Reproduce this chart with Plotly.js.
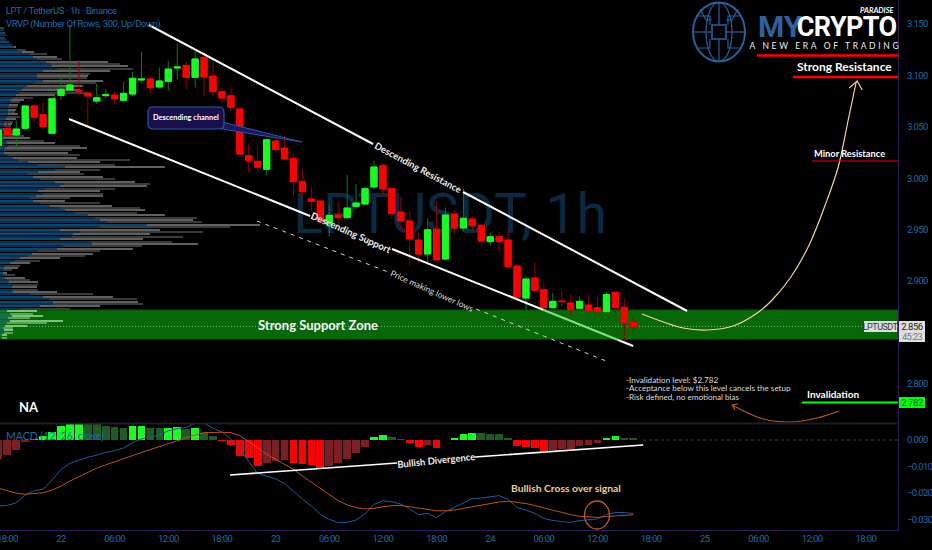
<!DOCTYPE html>
<html>
<head>
<meta charset="utf-8">
<script src="https://cdn.plot.ly/plotly-3.0.1.min.js"></script>
<style>
html,body{margin:0;padding:0;background:#000;}
#chart{width:932px;height:550px;}
.annotation[data-index="24"] text{letter-spacing:2.65px;}
.annotation[data-index="22"] text{letter-spacing:-0.6px;}
.annotation[data-index="0"] text,.annotation[data-index="1"] text{letter-spacing:-0.4px;}
.annotation[data-index="17"] text,.annotation[data-index="18"] text,.annotation[data-index="19"] text,.annotation[data-index="20"] text{letter-spacing:-0.5px;}
.xtick text,.ytick text,.y2tick text{letter-spacing:-0.6px;}
</style>
</head>
<body>
<div id="chart"></div>
<script>
// ---------- candle data (hours since 22nd 00:00, USDT) ----------
const hours = [-7,-6,-5,-4,-3,-2,-1,0,1,2,3,4,5,6,7,8,9,10,11,12,13,14,15,16,17,18,19,20,21,22,23,24,25,26,27,28,29,30,31,32,33,34,35,36,37,38,39,40,41,42,43,44,45,46,47,48,49,50,51,52,53,54,55,56,57,58,59,60,61,62,63,64];
const open = [3.0317,3.0486,3.0421,3.0486,3.0703,3.0618,3.0437,3.0806,3.0858,3.0855,3.0829,3.0751,3.0803,3.0810,3.0758,3.0819,3.0955,3.0965,3.0887,3.0942,3.1072,3.1098,3.0981,3.1176,3.0994,3.0842,3.0803,3.0674,3.0220,3.0165,3.0087,3.0362,3.0294,3.0194,2.9970,2.9799,2.9779,2.9556,2.9643,2.9617,2.9727,2.9750,2.9915,3.0126,2.9902,2.9672,2.9585,2.9400,2.9264,2.9504,2.9215,2.9653,2.9517,2.9604,2.9543,2.9384,2.9432,2.9400,2.9147,2.8836,2.9031,2.8917,2.8742,2.8807,2.8788,2.8736,2.8768,2.8742,2.8704,2.8892,2.8746,2.8600];
const high = [3.0469,3.0550,3.0560,3.0703,3.0722,3.0745,3.0774,3.0988,3.1490,3.1150,3.0852,3.0923,3.0865,3.0845,3.0939,3.1033,3.1231,3.0994,3.1079,3.1143,3.1312,3.1140,3.1241,3.1231,3.1134,3.0884,3.0884,3.0674,3.0340,3.0324,3.0379,3.0372,3.0411,3.0236,3.0090,2.9912,2.9779,2.9743,2.9779,3.0032,2.9944,2.9925,3.0171,3.0145,2.9902,2.9821,2.9685,2.9481,2.9611,2.9779,2.9708,2.9692,2.9902,2.9633,2.9552,2.9475,2.9481,2.9497,2.9167,2.9054,2.9183,2.8995,2.8888,2.8914,2.8869,2.8849,2.8869,2.8843,2.8895,2.8892,2.8830,2.8661];
const low = [3.0317,3.0400,3.0291,3.0469,3.0550,3.0469,3.0437,3.0761,3.0852,3.0810,3.0512,3.0722,3.0774,3.0722,3.0745,3.0800,3.0923,3.0832,3.0874,3.0852,3.0962,3.0865,3.0884,3.0800,3.0800,3.0729,3.0648,3.0236,3.0055,3.0064,3.0032,3.0243,3.0178,2.9821,2.9821,2.9685,2.9562,2.9432,2.9546,2.9611,2.9724,2.9740,2.9892,2.9837,2.9611,2.9504,2.9151,2.9173,2.9189,2.9199,2.9212,2.9458,2.9481,2.9491,2.9335,2.9342,2.9280,2.9125,2.8840,2.8720,2.8908,2.8736,2.8736,2.8752,2.8668,2.8730,2.8710,2.8687,2.8700,2.8687,2.8422,2.8493];
const close = [3.0469,3.0421,3.0479,3.0703,3.0593,3.0502,3.0774,3.0865,3.0907,3.0842,3.0800,3.0784,3.0813,3.0771,3.0826,3.0972,3.0965,3.0881,3.0946,3.1062,3.1082,3.0981,3.1160,3.0985,3.0842,3.0780,3.0690,3.0236,3.0171,3.0107,3.0375,3.0278,3.0188,2.9967,2.9870,2.9776,2.9578,2.9640,2.9617,2.9711,2.9760,2.9899,3.0110,2.9896,2.9656,2.9585,2.9410,2.9264,2.9500,2.9206,2.9643,2.9517,2.9611,2.9539,2.9390,2.9432,2.9384,2.9141,2.8843,2.9021,2.8911,2.8742,2.8804,2.8801,2.8723,2.8804,2.8713,2.8704,2.8869,2.8742,2.8593,2.8560];

// ---------- MACD ----------
const macdHist = [-0.0073,-0.0057,-0.0038,-0.0008,0.0005,0.0016,0.0031,0.0053,0.0060,0.0061,0.0060,0.0059,0.0053,0.0050,0.0045,0.0053,0.0054,0.0045,0.0044,0.0047,0.0048,0.0040,0.0044,0.0028,0.0015,-0.0003,-0.0019,-0.0059,-0.0069,-0.0098,-0.0088,-0.0078,-0.0077,-0.0086,-0.0091,-0.0094,-0.0104,-0.0098,-0.0088,-0.0073,-0.0050,-0.0025,0.0011,0.0020,0.0011,0.0004,-0.0011,-0.0026,-0.0019,-0.0030,-0.0001,0.0009,0.0023,0.0028,0.0025,0.0024,0.0023,0.0008,-0.0021,-0.0026,-0.0030,-0.0040,-0.0039,-0.0035,-0.0033,-0.0023,-0.0018,-0.0013,0.0009,0.0014,0.0009,0.0006];
const macdLine = [-0.0249,-0.0247,-0.0237,-0.0208,-0.0191,-0.0186,-0.0151,-0.0111,-0.0088,-0.0075,-0.0065,-0.0057,-0.0047,-0.0040,-0.0030,-0.0010,0.0004,0.0010,0.0019,0.0035,0.0043,0.0048,0.0063,0.0063,0.0044,0.0031,0.0003,-0.0031,-0.0082,-0.0126,-0.0136,-0.0147,-0.0164,-0.0195,-0.0223,-0.0249,-0.0281,-0.0299,-0.0312,-0.0311,-0.0302,-0.0279,-0.0243,-0.0229,-0.0233,-0.0242,-0.0260,-0.0282,-0.0277,-0.0293,-0.0270,-0.0254,-0.0237,-0.0221,-0.0219,-0.0214,-0.0210,-0.0224,-0.0255,-0.0264,-0.0277,-0.0296,-0.0304,-0.0308,-0.0311,-0.0304,-0.0302,-0.0298,-0.0281,-0.0273,-0.0274,-0.0277];
const macdSignal = [-0.0182,-0.0191,-0.0201,-0.0205,-0.0203,-0.0199,-0.0189,-0.0174,-0.0155,-0.0138,-0.0121,-0.0106,-0.0094,-0.0083,-0.0072,-0.0059,-0.0047,-0.0035,-0.0025,-0.0014,-0.0003,0.0009,0.0019,0.0028,0.0029,0.0029,0.0028,0.0016,-0.0006,-0.0029,-0.0054,-0.0073,-0.0091,-0.0111,-0.0136,-0.0160,-0.0181,-0.0208,-0.0229,-0.0245,-0.0255,-0.0260,-0.0258,-0.0252,-0.0248,-0.0247,-0.0252,-0.0257,-0.0260,-0.0267,-0.0267,-0.0264,-0.0258,-0.0252,-0.0245,-0.0239,-0.0234,-0.0231,-0.0235,-0.0240,-0.0247,-0.0257,-0.0265,-0.0273,-0.0282,-0.0288,-0.0291,-0.0292,-0.0289,-0.0286,-0.0283,-0.0282];

// ---------- visible-range volume profile (top row downwards) ----------
const vpTotal = [4,4,5,6,5,7,9,12,16,26,34,47,57,62,108,120,128,133,110,90,88,87,103,96,83,74,80,87,55,33,24,20,18,17,16,15,18,20,16,13,12,11,10,14,17,24,30,44,55,80,87,72,68,80,77,130,100,115,165,100,80,84,103,115,135,150,147,115,100,103,103,70,65,100,112,140,145,137,165,197,193,202,260,230,160,203,150,183,143,172,198,142,133,100,93,85,60,40,30,20,18,12,7,15,25,30,38,38,37,38,57,93,113,137,138,143,100,70,37,33,43,30,63,47,27,13,13,13,7,7];
const vpUp = [4,4,5,6,5,7,9,12,14,17,22,30,33,37,46,50,52,57,43,37,37,37,43,35,27,23,22,20,16,13,11,10,9,8,8,8,8,7,6,5,4,4,3,3,4,3,3,6,7,8,5,4,4,7,13,18,28,38,65,55,38,27,33,40,55,63,60,45,38,43,36,30,33,40,50,60,65,75,88,95,100,107,147,100,60,80,73,72,60,90,92,63,57,38,32,28,20,14,10,5,4,3,3,4,5,7,9,13,12,12,13,30,43,50,53,53,40,20,7,10,12,8,10,7,5,3,4,4,2,2];
const vpTopPrice = 3.1461, vpRowStep = 0.002333, vpUnitPerHour = 8.94;

// ---------- axes ----------
const xTickVals = [-6,0,6,12,18,24,30,36,42,48,54,60,66,72,78,84,90];
const xTickText = ['18:00','22','06:00','12:00','18:00','23','06:00','12:00','18:00','24','06:00','12:00','18:00','25','06:00','12:00','18:00'];
const priceTicks = [3.15,3.10,3.05,3.00,2.95,2.90,2.80];
const macdTicks = [0,-0.01,-0.02,-0.03];

// ---------- key levels ----------
const zoneTop = 2.8720, zoneBottom = 2.8433, lastPrice = 2.8560, invalidation = 2.782;

// ---------- picture-to-axis helpers for the hand-drawn overlays ----------
const W = 898, H = 530;
const toHour = px => (px - 61) / 8.94;
const toPrice = py => 3.15 - (py - 24) / 1028.6;
const toMacd = py => (440 - py) / 2650;
const fx = px => px / W, fy = py => 1 - py / H;

const BLUE = 'rgb(28,108,168)';
const FONT = 'Lato, "Open Sans", sans-serif';
const NARROW = 'Roboto, sans-serif';
const hourArr = a => a.map(p => p === null ? null : toHour(p[0]));
const priceArr = a => a.map(p => p === null ? null : toPrice(p[1]));

function drawLine(points, color, width, opt) {
  opt = opt || {};
  return {type:'scatter', mode:'lines', x:hourArr(points), y:priceArr(points), cliponaxis:false,
    line:{color:color, width:width, dash:opt.dash||'solid', shape:opt.spline?'spline':'linear', smoothing:opt.smoothing||1},
    hoverinfo:'skip', showlegend:false};
}

const traces = [];
// profile rows
const vpY = vpTotal.map((_, i) => vpTopPrice - i * vpRowStep);
const inZone = p => p <= zoneTop && p >= zoneBottom;
traces.push({type:'bar', orientation:'h', y:vpY, x:vpTotal.map(v => v / vpUnitPerHour), base:-6.82, width:0.0021,
  marker:{color:vpY.map((p,i) => inZone(p) ? (i%2 ? 'rgb(85,165,85)' : 'rgb(120,195,120)') : (i%2 ? 'rgb(58,58,58)' : 'rgb(96,96,96)')), line:{width:0}},
  hoverinfo:'skip', showlegend:false});
traces.push({type:'bar', orientation:'h', y:vpY, x:vpUp.map(v => v / vpUnitPerHour), base:-6.82, width:0.0021,
  marker:{color:vpY.map((p,i) => inZone(p) ? 'rgb(20,110,70)' : (i%2 ? 'rgb(11,46,74)' : 'rgb(15,68,108)')), line:{width:0}},
  hoverinfo:'skip', showlegend:false});

// candles: full candle with dark wicks, then bright bodies on top
const bodyHi = open.map((o,i) => Math.max(o, close[i]));
const bodyLo = open.map((o,i) => Math.min(o, close[i]));
traces.push({type:'candlestick', x:hours, open:open, high:high, low:low, close:close,
  increasing:{line:{color:'rgb(12,125,25)', width:1}, fillcolor:'rgb(12,125,25)'},
  decreasing:{line:{color:'rgb(150,0,0)', width:1}, fillcolor:'rgb(150,0,0)'},
  whiskerwidth:0, hoverinfo:'skip', showlegend:false});
traces.push({type:'candlestick', x:hours, open:open, high:bodyHi, low:bodyLo, close:close,
  increasing:{line:{color:'rgb(20,255,30)', width:1}, fillcolor:'rgb(20,255,30)'},
  decreasing:{line:{color:'rgb(255,0,0)', width:1}, fillcolor:'rgb(255,0,0)'},
  whiskerwidth:0, hoverinfo:'skip', showlegend:false});

// MACD histogram + lines
const histColors = macdHist.map((v,i) => {
  const prev = i ? macdHist[i-1] : v;
  if (v >= 0) return v > prev ? 'rgb(20,255,30)' : 'rgb(30,92,36)';
  return v < prev ? 'rgb(255,0,0)' : 'rgb(125,30,36)';
});
traces.push({type:'bar', x:hours, y:macdHist, yaxis:'y2', width:0.86, marker:{color:histColors, line:{width:0}}, hoverinfo:'skip', showlegend:false});
traces.push({type:'scatter', mode:'lines', x:hours, y:macdLine, yaxis:'y2', line:{color:'rgb(28,92,160)', width:1}, hoverinfo:'skip', showlegend:false});
traces.push({type:'scatter', mode:'lines', x:hours, y:macdSignal, yaxis:'y2', line:{color:'rgb(190,82,24)', width:1}, hoverinfo:'skip', showlegend:false});

// channel lines
traces.push(drawLine([[149,25],[373,144],null,[463,192],[687,311]], 'rgb(255,255,255)', 2));
traces.push(drawLine([[69,119],[310,216],null,[392,249],[543.5,310]], 'rgb(255,255,255)', 2));
traces.push(drawLine([[543.5,310],[618,340]], 'rgb(130,225,130)', 2));
traces.push(drawLine([[618,340],[633,346]], 'rgb(255,255,255)', 2));
traces.push(drawLine([[257,221],[388,272],null,[476,309],[606,361]], 'rgb(210,210,210)', 1, {dash:'4px 5px'}));
// projected path with arrow head
traces.push(drawLine([[642,314],[683,328],[707,330],[733,326],[757,313],[772,300],[790,278],[808,247],[825,205],[838,167],[848,120],[856,82]], 'rgb(240,212,155)', 1.2, {spline:true}));
traces.push(drawLine([[849,88],[857,81],[862,90]], 'rgb(240,212,155)', 1.2));
// invalidation note arrow
traces.push(drawLine([[839,411],[817,418],[790,422],[763,419],[732,405]], 'rgb(185,90,32)', 1.2, {spline:true}));
traces.push(drawLine([[738,404],[732,405],[735,410]], 'rgb(185,90,32)', 1.2));
// divergence line in MACD pane
const divLine = [[230,475],[397,463],null,[475,457],[643,445]];
traces.push({type:'scatter', mode:'lines', x:hourArr(divLine), y:divLine.map(p => p ? toMacd(p[1]) : null), yaxis:'y2', line:{color:'#fff', width:1.6}, hoverinfo:'skip', showlegend:false});

// ---------- overlay shapes ----------
const shapes = [];
const rectShape = (x0,y0,x1,y1,fill,extra) => Object.assign({type:'rect', xref:'paper', yref:'paper', x0:fx(x0), x1:fx(x1), y0:fy(y0), y1:fy(y1), fillcolor:fill, line:{width:0}, layer:'above'}, extra||{});
const segShape = (x0,y0,x1,y1,color,width,dash) => ({type:'line', xref:'paper', yref:'paper', x0:fx(x0), x1:fx(x1), y0:fy(y0), y1:fy(y1), line:{color:color, width:width, dash:dash||'solid'}, layer:'above'});
const pathShape = (d,fill,color,width) => ({type:'path', xref:'paper', yref:'paper', path:d, fillcolor:fill||'rgba(0,0,0,0)', line:{color:color, width:width}, layer:'above'});
const P = (x,y) => fx(x) + ' ' + fy(y);
function ellipsePath(cx,cy,rx,ry){
  const k = 0.5523;
  return 'M '+P(cx-rx,cy)+' C '+P(cx-rx,cy-k*ry)+' '+P(cx-k*rx,cy-ry)+' '+P(cx,cy-ry)+' C '+P(cx+k*rx,cy-ry)+' '+P(cx+rx,cy-k*ry)+' '+P(cx+rx,cy)+' C '+P(cx+rx,cy+k*ry)+' '+P(cx+k*rx,cy+ry)+' '+P(cx,cy+ry)+' C '+P(cx-k*rx,cy+ry)+' '+P(cx-rx,cy+k*ry)+' '+P(cx-rx,cy)+' Z';
}
function roundRect(x0,y0,x1,y1,r){
  return 'M '+P(x0+r,y0)+' L '+P(x1-r,y0)+' Q '+P(x1,y0)+' '+P(x1,y0+r)+' L '+P(x1,y1-r)+' Q '+P(x1,y1)+' '+P(x1-r,y1)+' L '+P(x0+r,y1)+' Q '+P(x0,y1)+' '+P(x0,y1-r)+' L '+P(x0,y0+r)+' Q '+P(x0,y0)+' '+P(x0+r,y0)+' Z';
}
// watermark (under all traces)
shapes.push({type:'rect', xref:'paper', yref:'paper', x0:fx(296), x1:fx(604), y0:fy(240), y1:fy(180), line:{width:0}, fillcolor:'rgba(0,0,0,0)', layer:'below',
  label:{text:'LPTUSDT, 1h', textposition:'middle center', font:{family:'Roboto, sans-serif', size:55, color:'rgb(9,42,66)'}}});
// support zone (under all traces)
shapes.push({type:'rect', xref:'paper', yref:'y', x0:0, x1:1, y0:zoneBottom, y1:zoneTop, fillcolor:'rgb(8,104,8)', line:{width:0}, layer:'below'});
shapes.push({type:'line', xref:'paper', yref:'y', x0:0, x1:1, y0:zoneTop, y1:zoneTop, line:{color:'rgb(6,80,6)', width:1}, layer:'below'});
shapes.push({type:'line', xref:'paper', yref:'y', x0:0, x1:1, y0:lastPrice, y1:lastPrice, line:{color:'rgba(170,225,170,.75)', width:1, dash:'1px 2px'}, layer:'below'});
// pane separator and zero line
shapes.push(segShape(0,423.5,898,423.5,'rgb(28,28,34)',2));
shapes.push({type:'line', xref:'paper', yref:'y2', x0:fx(643), x1:1, y0:0, y1:0, line:{color:'rgb(60,60,60)', width:1, dash:'3px 3px'}, layer:'below'});
// level lines
shapes.push(segShape(757,55.5,898,55.5,'rgb(255,0,0)',2.5));
shapes.push(segShape(793,77,898,77,'rgb(255,0,0)',2.5));
shapes.push(segShape(812,161,898,161,'rgb(240,0,0)',1.2));
shapes.push({type:'line', xref:'paper', yref:'y', x0:fx(802), x1:1, y0:invalidation, y1:invalidation, line:{color:'rgb(0,255,10)', width:2}, layer:'above'});
// callout
shapes.push(pathShape('M '+P(222,122)+' L '+P(302,142)+' L '+P(222,129)+' Z','rgb(30,20,95)','rgb(30,95,165)',1));
shapes.push(pathShape(roundRect(148,107,224,129,5),'rgb(24,15,78)','rgb(30,95,165)',1.2));
// cross-over circle
shapes.push(pathShape(ellipsePath(597,515,12.5,14),null,'rgb(190,92,32)',1.3));
// right side labels
shapes.push(rectShape(864,321,897,332,'rgb(222,222,222)'));
shapes.push(rectShape(899,321,925,342,'rgb(222,222,222)'));
shapes.push(rectShape(899,397,925,408,'rgb(0,255,10)'));
// logo globe
const LB = 'rgb(38,98,158)';
shapes.push(pathShape(ellipsePath(719,32,26,29.5),null,LB,2));
shapes.push(pathShape(ellipsePath(719,32,13,29.5),null,LB,1.2));
shapes.push(pathShape('M '+P(712,25)+' L '+P(726,25)+' L '+P(726,39)+' L '+P(712,39)+' Z',null,LB,1.6));
[['M',696,16,710,16,710,25],['M',742,16,728,16,728,25],['M',693,32,712,32,712,32],['M',745,32,726,32,726,32],['M',696,48,710,48,710,39],['M',742,48,728,48,728,39],['M',719,3,719,14,719,25],['M',719,61,719,50,719,39],['M',700,9,706,20,712,20],['M',738,9,732,20,726,20]].forEach(s => {
  shapes.push(pathShape('M '+P(s[1],s[2])+' L '+P(s[3],s[4])+' L '+P(s[5],s[6]),null,LB,1.2));
});

// ---------- texts ----------
function T(x,y,text,o){
  o = o || {};
  return {xref:'paper', yref:'paper', x:fx(x), y:fy(y), text:text, showarrow:false, xanchor:o.a||'left', yanchor:'middle', textangle:o.rot||0,
    font:{family:o.family||FONT, size:o.size||10, color:o.color||'#fff', weight:o.weight||'normal', style:o.style||'normal'}, borderpad:0, captureevents:false};
}
const annotations = [
  T(-1,11,'LPT / TetherUS · 1h · Binance',{size:9.5,color:BLUE,family:NARROW}),
  T(-2,24,'VRVP (Number Of Rows, 300, Up/Down)',{size:9.5,color:BLUE,family:NARROW}),
  T(5,436,'MACD (12, 26, close)',{size:10.5,color:BLUE}),
  T(18,407,'NA',{size:13,weight:'bold'}),
  T(186,117,'Descending channel',{a:'center',size:7.4,weight:'bold'}),
  T(418,167,'Descending Resistance',{a:'center',size:9.5,rot:28,weight:'bold',color:'#eee'}),
  T(351,232,'Descending Support',{a:'center',size:9.6,rot:24,weight:'bold',color:'#eee'}),
  T(432,291,'Price making lower lows',{a:'center',size:8.5,rot:24,color:'#ddd'}),
  T(318,325,'Strong Support Zone',{a:'center',size:13,weight:'bold',color:'#f4f4f4'}),
  T(436,460,'Bullish Divergence',{a:'center',size:9.5,rot:-6,weight:'bold',color:'#eee'}),
  T(510,488,'Bullish Cross over signal',{size:10.3,weight:'bold',color:'rgb(240,205,140)'}),
  T(625,379.5,'-Invalidation level: $2.782',{size:8.1,color:'#ddd'}),
  T(625,388,'-Acceptance below this level cancels the setup',{size:8.1,color:'#ddd'}),
  T(625,396.5,'-Risk defined, no emotional bias',{size:8.1,color:'#ddd'}),
  T(893,67,'Strong Resistance',{a:'right',size:12,weight:'bold'}),
  T(849,153,'Minor Resistance',{a:'center',size:9.3,weight:'bold'}),
  T(806,394,'Invalidation',{size:10,weight:'bold'}),
  T(880.5,326.5,'LPTUSDT',{a:'center',size:9,color:'#333',family:NARROW}),
  T(912,326.5,'2.856',{a:'center',size:9.5,color:'#222',family:NARROW}),
  T(912,337,'45:23',{a:'center',size:9,color:'#777',family:NARROW}),
  T(912,402.5,'2.782',{a:'center',size:9.5,color:'#063',family:NARROW}),
  T(757,27,'MY',{size:30,weight:'bold',color:'rgb(46,98,158)',family:'Roboto, sans-serif'}),
  T(899,27,'CRYPTO',{a:'right',size:27,weight:'bold',family:'Roboto, sans-serif'}),
  T(896,10.5,'PARADISE',{a:'right',size:7.5,weight:'bold',style:'italic'}),
  T(775,46,'A NEW ERA OF TRADING',{size:8.5,color:'#eee'})
];

const axisFont = {family:NARROW, size:9.5, color:BLUE};
const layout = {
  width:932, height:550, margin:{l:0,r:34,t:0,b:20,pad:0}, paper_bgcolor:'#000', plot_bgcolor:'#000',
  font:{family:FONT, color:BLUE}, showlegend:false, barmode:'overlay', boxmode:'overlay', boxgap:0, bargap:0,
  xaxis:{type:'linear', range:[-6.82,93.6], domain:[0,1], anchor:'y2', rangeslider:{visible:false}, showgrid:false, zeroline:false,
    tickmode:'array', tickvals:xTickVals, ticktext:xTickText, tickfont:axisFont, ticklabeloverflow:'allow', showline:true, linecolor:'rgb(44,26,92)', linewidth:1, ticks:'', fixedrange:true},
  yaxis:{type:'linear', domain:[107/530,1], range:[toPrice(423),toPrice(0)], side:'right', anchor:'x', showgrid:false, zeroline:false,
    tickmode:'array', tickvals:priceTicks, tickformat:'.3f', tickfont:axisFont, showline:true, linecolor:'rgb(44,26,92)', linewidth:1, ticks:'outside', ticklen:6, tickcolor:'#000', fixedrange:true},
  yaxis2:{type:'linear', domain:[0,106/530], range:[toMacd(530),toMacd(424)], side:'right', anchor:'x', showgrid:false, zeroline:false,
    tickmode:'array', tickvals:macdTicks, tickformat:'.3f', tickfont:axisFont, showline:true, linecolor:'rgb(44,26,92)', linewidth:1, ticks:'outside', ticklen:6, tickcolor:'#000', fixedrange:true},
  shapes:shapes, annotations:annotations
};
Plotly.newPlot('chart', traces, layout, {staticPlot:true, displayModeBar:false});
</script>
</body>
</html>
